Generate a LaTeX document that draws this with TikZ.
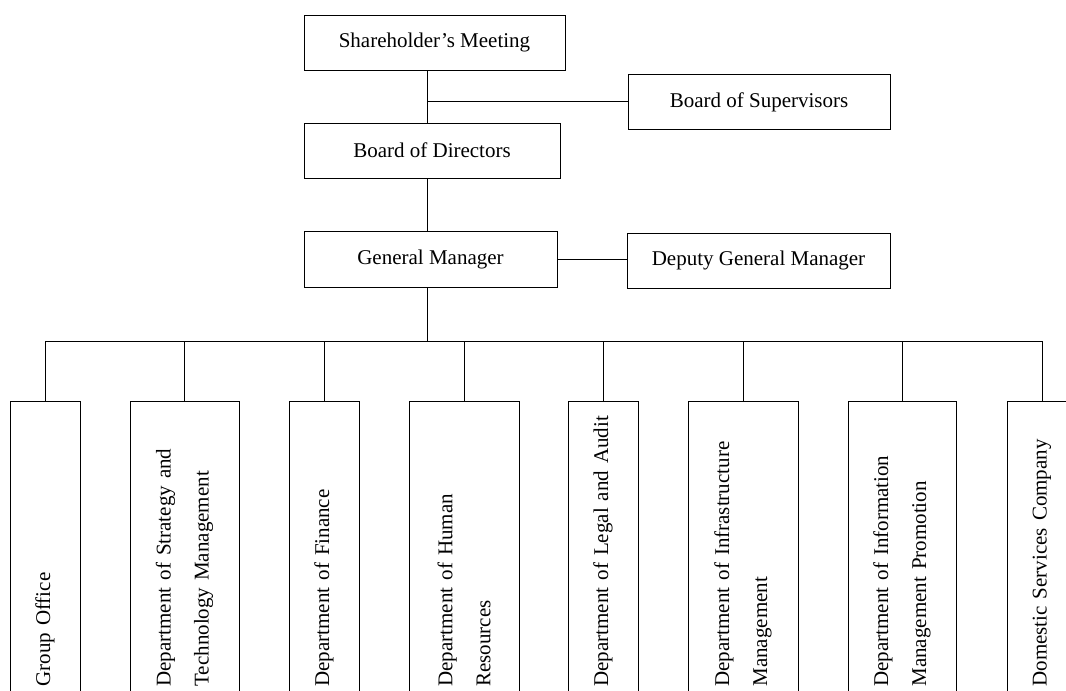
\documentclass[tikz,border=0pt]{standalone}
\usepackage{fontspec}
\setmainfont{Liberation Serif}
\usepackage{tikz}

\tikzset{
  unit/.style={draw, line width=0.5pt, minimum height=27.5pt, inner sep=0pt,
               font=\fontsize{10.5}{19}\selectfont},
  dept/.style={draw, line width=0.5pt, rotate=90, anchor=east, align=left,
               text width=139pt, inner xsep=3.5pt, inner ysep=0pt,
               font=\fontsize{10.5}{19}\selectfont},
  link/.style={line width=0.5pt}
}

\begin{document}
\begin{tikzpicture}[x=0.5pt, y=-0.5pt]
    \useasboundingbox (0,0) rectangle (1066,691);

    % governance
    \node[unit, minimum width=130.5pt] (meeting) at (434.5,42.5) {Shareholder’s Meeting};
    \node[unit, minimum width=131pt] (supervisors) at (759,102) {Board of Supervisors};
    \node[unit, minimum width=128pt] (directors) at (432,150.5) {Board of Directors};
    \node[unit, minimum width=126.5pt, minimum height=28pt] (manager) at (430.5,259) {General Manager};
    \node[unit, minimum width=131.5pt] (deputy) at (758.5,260.5) {Deputy General Manager};

    \coordinate (trunk) at (427,101);
    \coordinate (bus) at (427,341);

    % departments
    \node[dept, minimum height=35pt] (office) at (45,401) {Group Office};
    \node[dept, minimum height=54.5pt] (strategy) at (184.5,401) {Department of Strategy and\\Technology Management};
    \node[dept, minimum height=35pt] (finance) at (324,401) {Department of Finance};
    \node[dept, minimum height=55pt] (hr) at (464,401) {Department of Human\\Resources};
    \node[dept, minimum height=35pt] (legal) at (603,401) {Department of Legal and Audit};
    \node[dept, minimum height=55pt] (infra) at (743,401) {Department of Infrastructure\\Management};
    \node[dept, minimum height=54pt] (info) at (902,401) {Department of Information\\Management Promotion};
    \node[dept, minimum height=35pt] (domestic) at (1042,401) {Domestic Services Company};

    \draw[link] (trunk |- meeting.south) -- (trunk |- directors.north);
    \draw[link] (trunk) -- (trunk -| supervisors.west);
    \draw[link] (trunk |- directors.south) -- (trunk |- manager.north);
    \draw[link] (manager.east) -- (manager.east -| deputy.west);
    \draw[link] (trunk |- manager.south) -- (bus);
    \draw[link] (bus -| office.east) -- (bus -| domestic.east);
    \foreach \d in {office,strategy,finance,hr,legal,infra,info,domestic}
      \draw[link] (bus -| \d.east) -- (\d.east);
\end{tikzpicture}
\end{document}
